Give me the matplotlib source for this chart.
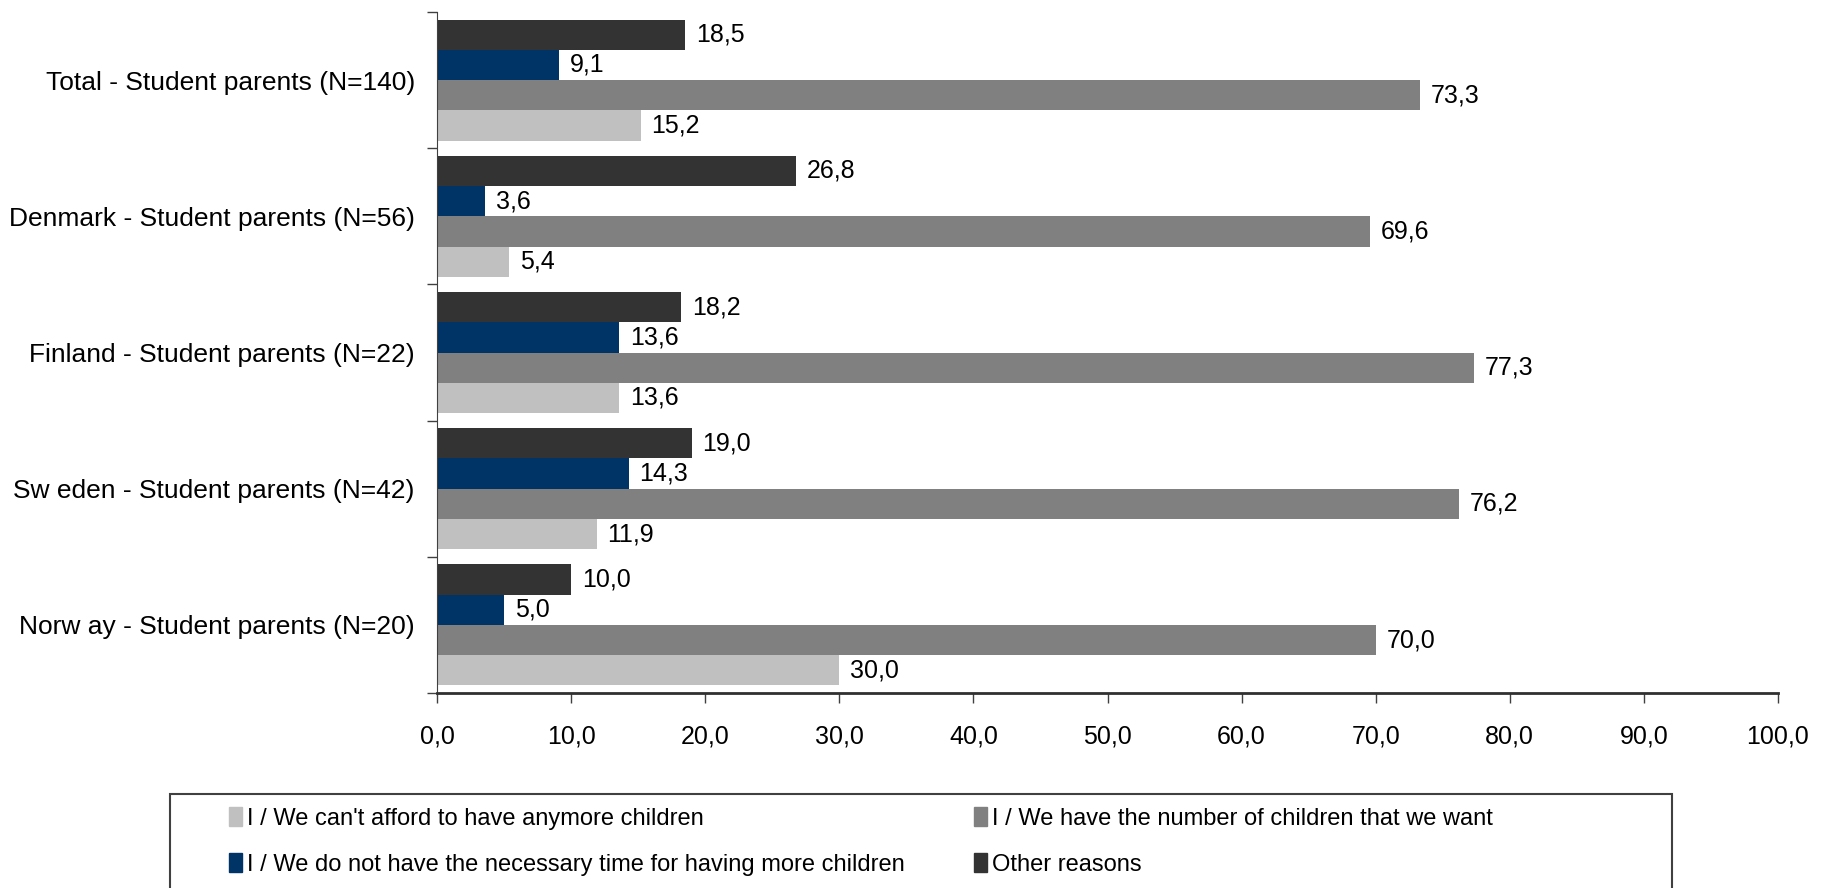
import matplotlib
matplotlib.use("Agg")
import matplotlib.pyplot as plt
import matplotlib.patches as mpatches
import numpy as np

plt.rcParams['font.family'] = ['Liberation Sans', 'DejaVu Sans']

categories = ["Total - Student parents (N=140)",
              "Denmark - Student parents (N=56)",
              "Finland - Student parents (N=22)",
              "Sw eden - Student parents (N=42)",
              "Norw ay - Student parents (N=20)"]
series_names = ["I / We can't afford to have anymore children",
                "I / We have the number of children that we want",
                "I / We do not have the necessary time for having more children",
                "Other reasons"]
afford = [15.2, 5.4, 13.6, 11.9, 30.0]
number_wanted = [73.3, 69.6, 77.3, 76.2, 70.0]
no_time = [9.1, 3.6, 13.6, 14.3, 5.0]
other = [18.5, 26.8, 18.2, 19.0, 10.0]
x_ticks = [0, 10, 20, 30, 40, 50, 60, 70, 80, 90, 100]

colors = ["#C0C0C0", "#808080", "#003366", "#333333"]
series = [afford, number_wanted, no_time, other]

W, H = 1829, 888
fig = plt.figure(figsize=(W / 100, H / 100), dpi=100)
ax = fig.add_axes([437 / W, 1 - 693 / H, (1778 - 437) / W, (693 - 12) / H])

n = len(categories)
y = np.arange(n)
bh = 0.222
offsets = [1.5 * bh, 0.5 * bh, -0.5 * bh, -1.5 * bh]
for vals, col, off, name in zip(series, colors, offsets, series_names):
    pos = y + off
    ax.barh(pos, vals, height=bh, color=col, label=name, zorder=2)
    for p, v in zip(pos, vals):
        ax.text(v + 0.8, p, f"{v:.1f}".replace(".", ","), va="center", ha="left",
                fontsize=18, color="black")

ax.set_ylim(n - 0.5, -0.5)
ax.set_xlim(0, 100)
ax.set_yticks(y)
ax.set_yticklabels(categories, fontsize=19)
ax.tick_params(axis='y', which='major', length=0, pad=16)
ax.set_yticks(np.arange(-0.5, n, 1.0), minor=True)
ax.tick_params(axis='y', which='minor', length=7, width=1, color='#404040')
ax.set_xticks(x_ticks)
ax.set_xticklabels([f"{t:.1f}".replace(".", ",") for t in x_ticks], fontsize=18)
ax.tick_params(axis='x', length=7, width=1, color='#404040', pad=16)
for s in ['top', 'right']:
    ax.spines[s].set_visible(False)
ax.spines['left'].set_color('#404040')
ax.spines['bottom'].set_color('#303030')
ax.spines['bottom'].set_linewidth(2)

rect = mpatches.Rectangle((170 / W, -0.05), (1672 - 170) / W, 0.05 + (888 - 794) / H,
                          transform=fig.transFigure, fill=False, edgecolor='#404040',
                          linewidth=1.5)
fig.patches.append(rect)

handles = [mpatches.Patch(color=c) for c in colors]
common = dict(loc='upper left', frameon=False, fontsize=17, handlelength=0.57,
              handleheight=0.88, handletextpad=0.2, labelspacing=0.98, borderpad=0,
              borderaxespad=0)
fig.legend([handles[0], handles[2]], [series_names[0], series_names[2]],
           bbox_to_anchor=(229 / W, 1 - 807 / H), **common)
fig.legend([handles[1], handles[3]], [series_names[1], series_names[3]],
           bbox_to_anchor=(974 / W, 1 - 807 / H), **common)

fig.savefig("out.png", dpi=100)
